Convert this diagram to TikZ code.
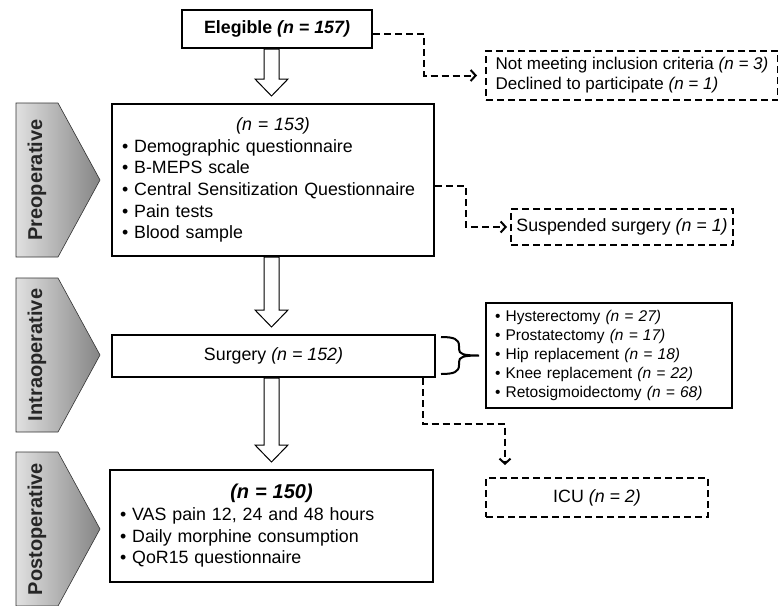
\documentclass[tikz,border=0pt]{standalone}
\usepackage{fontspec}
\setmainfont{Liberation Sans}
\usetikzlibrary{arrows.meta}

\tikzset{
  box/.style={draw, line width=2pt, inner sep=0pt, font=\fontsize{17.8}{21.7}\selectfont},
  dashbox/.style={box, dash pattern=on 7pt off 4pt},
  dasharrow/.style={line width=2pt, dash pattern=on 7pt off 4pt, -{Straight Barb[length=5pt,width=11pt]}},
  fat/.style={draw, line width=1pt, fill=white, to path={
      ([xshift=-7.5pt]\tikztostart) -- ([xshift=-7.5pt,yshift=24pt]\tikztotarget)
      -- ([xshift=-16.5pt,yshift=24pt]\tikztotarget) -- ([yshift=7pt]\tikztotarget)
      -- ([xshift=16.5pt,yshift=24pt]\tikztotarget) -- ([xshift=7.5pt,yshift=24pt]\tikztotarget)
      -- ([xshift=7.5pt]\tikztostart) -- cycle}},
  phase/.style={draw=black!80, line width=0.6pt, left color=black!12, right color=black!48},
  phaselabel/.style={rotate=90, font=\fontsize{20}{24}\selectfont\bfseries, text=black!85},
}

\begin{document}
\begin{tikzpicture}[x=1pt,y=-1pt]
  \useasboundingbox (0,0) rectangle (778,605);

  % phase tags on the left
  \foreach \y/\name/\txt in {103/pre/Preoperative, 278/intra/Intraoperative, 452/post/Postoperative} {
    \draw[phase] (16,\y) -- (58,\y) -- (100,\y+77) -- (58,\y+154) -- (16,\y+154) -- cycle;
    \node[phaselabel] (\name) at (37,\y+77) {\txt};
  }

  % main column
  \node[box, minimum width=190pt, minimum height=38pt] (elig) at (277,29) {\textbf{Elegible \textit{(n = 157)}}};
  \node[box, minimum width=322pt, minimum height=152pt, text width=302pt, align=left] (preop) at (273,180)
    {\makebox[302pt]{\textit{(n = 153)}}\\
     • Demographic questionnaire\\
     • B-MEPS scale\\
     • Central Sensitization Questionnaire\\
     • Pain tests\\
     • Blood sample};
  \node[box, minimum width=323pt, minimum height=42pt] (surg) at (273.5,356) {Surgery \textit{(n = 152)}};
  \node[box, minimum width=323pt, minimum height=112pt, text width=303pt, align=left] (postop) at (271.5,526)
    {\makebox[303pt]{\fontsize{20}{24}\selectfont\bfseries\itshape (n = 150)}\\
     • VAS pain 12, 24 and 48 hours\\
     • Daily morphine consumption\\
     • QoR15 questionnaire};

  % side boxes
  \node[dashbox, minimum width=292pt, minimum height=49pt, align=left,
        font=\fontsize{17}{20}\selectfont] (excl) at (632,75.5)
    {Not meeting inclusion criteria \textit{(n = 3)}\\
     Declined to participate \textit{(n = 1)}};
  \node[dashbox, minimum width=222pt, minimum height=36pt] (susp) at (622,227) {Suspended surgery \textit{(n = 1)}};
  \node[box, minimum width=246pt, minimum height=105pt, text width=228pt, align=left,
        font=\fontsize{15.5}{19}\selectfont] (types) at (609,355.5)
    {• Hysterectomy \textit{(n = 27)}\\
     • Prostatectomy \textit{(n = 17)}\\
     • Hip replacement \textit{(n = 18)}\\
     • Knee replacement \textit{(n = 22)}\\
     • Retosigmoidectomy \textit{(n = 68)}};
  \node[dashbox, minimum width=222pt, minimum height=39pt] (icu) at (597,497.5) {ICU \textit{(n = 2)}};

  % hollow arrows
  \coordinate (ax) at (271.5,0);
  \coordinate (a1) at (ax |- elig.south);
  \coordinate (b1) at (ax |- preop.north);
  \coordinate (a2) at (ax |- preop.south);
  \coordinate (b2) at (ax |- surg.north);
  \coordinate (a3) at (ax |- surg.south);
  \coordinate (b3) at (ax |- postop.north);
  \draw[fat] (a1) to (b1);
  \draw[fat] (a2) to (b2);
  \draw[fat] (a3) to (b3);

  % dropouts
  \draw[dasharrow, shorten >=8pt] ([yshift=-5pt]elig.east) -- ++(51,0) |- (excl.west);
  \draw[dasharrow, shorten >=3pt] ([yshift=-6pt]preop.east) -- ++(31,0) |- (susp.west);
  \draw[dasharrow, shorten >=12pt] ([xshift=-13.5pt]surg.south east) -- ++(0,46) -| ([xshift=20pt]icu.north west);

  % brace to surgery types
  \coordinate (br) at ([xshift=-6pt]types.west);
  \begin{scope}[shift={(br)}]
    \draw[line width=2pt] (-38,-18.5) .. controls (-25,-18.5) and (-20,-16.5) .. (-20,-9.5) -- (-20,-6.5)
      .. controls (-20,-1.5) and (-16,0) .. (0,0)
      .. controls (-16,0) and (-20,1.5) .. (-20,6.5) -- (-20,9.5)
      .. controls (-20,16.5) and (-25,18.5) .. (-38,18.5);
  \end{scope}
\end{tikzpicture}
\end{document}
